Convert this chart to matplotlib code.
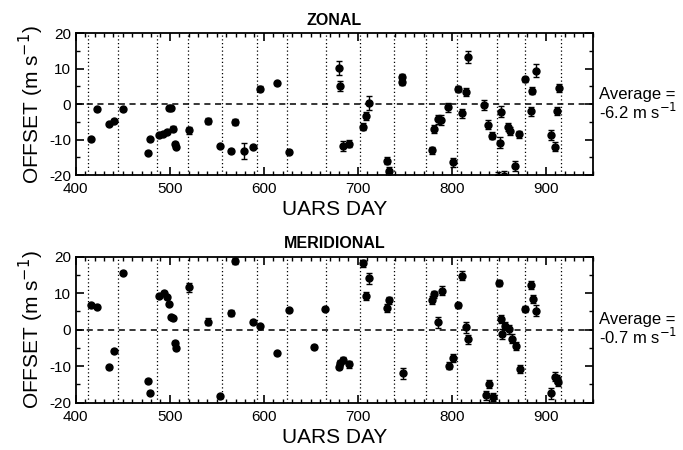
import numpy as np
import matplotlib
matplotlib.use("Agg")
import matplotlib.pyplot as plt
from matplotlib.ticker import MultipleLocator

plt.rcParams['font.family'] = ['Liberation Sans', 'DejaVu Sans']
plt.rcParams['axes.unicode_minus'] = False

# zonal offsets
day_z = [416, 423, 435, 441, 450, 477, 479, 488, 493, 497, 499, 501, 503, 505, 507,
         520, 541, 553, 565, 569, 579, 589, 596, 614, 627, 680, 681, 684, 691, 705,
         709, 712, 731, 733, 747, 747, 779, 781, 785, 789, 796, 801, 807, 811, 815,
         817, 834, 839, 843, 849, 851, 852, 856, 860, 862, 867, 871, 878, 884, 885,
         890, 906, 910, 912, 914]
off_z = [-9.9, -1.4, -5.6, -4.7, -1.4, -13.7, -9.9, -8.7, -8.3, -7.8, -1.2, -1.2, -6.9, -11.1, -12.0,
         -7.3, -4.7, -11.8, -13.2, -5.0, -13.2, -12.0, 4.4, 5.9, -13.4, 10.3, 5.1, -11.8, -11.1, -6.4,
         -3.3, 0.4, -16.0, -18.8, 7.6, 6.3, -13.0, -7.0, -4.3, -4.5, -0.9, -16.4, 4.2, -2.6, 3.4,
         13.3, -0.2, -5.8, -8.9, -20.5, -10.9, -2.1, -20.3, -6.5, -7.5, -17.4, -8.5, 7.0, -2.0, 3.8,
         9.4, -8.7, -12.0, -1.9, 4.5]
err_z = [0.4, 0.4, 0.4, 0.4, 0.4, 0.5, 0.4, 0.4, 0.4, 0.4, 0.4, 0.4, 0.8, 0.5, 0.5,
         1.0, 0.8, 0.4, 0.5, 0.8, 2.3, 0.4, 0.8, 0.4, 0.5, 2.0, 1.5, 1.5, 1.0, 1.0,
         1.2, 2.0, 1.0, 1.0, 1.0, 1.0, 1.0, 1.0, 1.2, 1.5, 1.2, 1.2, 0.8, 1.2, 1.2,
         1.8, 1.5, 1.2, 1.0, 1.5, 1.5, 1.5, 1.5, 1.2, 1.2, 1.5, 1.0, 0.8, 1.2, 1.0,
         1.8, 1.5, 1.2, 1.2, 1.2]

# meridional offsets
day_m = [416, 423, 435, 441, 450, 477, 479, 488, 494, 497, 499, 501, 503, 505, 507,
         520, 541, 553, 565, 569, 589, 596, 614, 627, 653, 665, 680, 681, 684, 691,
         705, 709, 712, 731, 733, 748, 779, 781, 785, 790, 797, 801, 807, 811, 815,
         817, 836, 840, 844, 850, 852, 853, 857, 861, 864, 868, 872, 878, 884, 886,
         890, 906, 910, 912, 913]
off_m = [6.6, 6.2, -10.3, -5.8, 15.6, -14.0, -17.3, 9.3, 10.1, 8.9, 7.0, 3.4, 3.1, -3.7, -5.0,
         11.6, 2.2, -18.2, 4.6, 18.8, 2.2, 1.0, -6.5, 5.3, -4.7, 5.7, -10.1, -9.2, -8.3, -9.5,
         18.1, 9.2, 14.1, 5.9, 8.0, -11.9, 8.1, 9.7, 2.0, 10.7, -9.9, -7.8, 6.6, 14.7, 0.7,
         -2.6, -18.0, -14.9, -18.4, 12.7, 2.9, -1.2, 1.0, 0.1, -2.5, -4.5, -10.8, 5.7, 12.2, 8.4,
         5.1, -17.4, -12.9, -13.5, -14.2]
err_m = [0.4, 0.4, 0.4, 0.5, 0.4, 0.5, 0.4, 0.4, 0.4, 0.4, 0.4, 0.4, 0.4, 0.5, 0.5,
         1.2, 1.0, 0.4, 0.8, 0.8, 0.4, 0.4, 0.4, 0.4, 0.5, 0.4, 0.8, 0.8, 0.8, 1.0,
         1.0, 1.0, 1.5, 1.0, 1.0, 1.5, 1.0, 1.0, 1.5, 1.2, 1.0, 1.0, 0.8, 1.2, 1.5,
         1.2, 1.2, 1.2, 1.2, 0.8, 1.2, 1.5, 1.2, 1.2, 1.2, 1.2, 1.0, 0.8, 1.2, 1.0,
         1.5, 1.5, 1.2, 1.2, 1.2]

# dotted vertical lines
events = [413, 445, 486, 519, 556, 593, 625, 666, 702, 738, 773, 805, 848, 878, 916]

panels = [("ZONAL", day_z, off_z, err_z, "-6.2"),
          ("MERIDIONAL", day_m, off_m, err_m, "-0.7")]

fig = plt.figure(figsize=(6.83, 4.5), dpi=100)
rects = [[0.111, 0.611, 0.757, 0.315], [0.111, 0.105, 0.757, 0.325]]

for rect, (title, d, o, e, avg) in zip(rects, panels):
    ax = fig.add_axes(rect)
    for x in events:
        ax.axvline(x, color='black', ls=(0, (1, 2)), lw=0.9, zorder=1)
    ax.axhline(0, color='black', ls=(0, (4, 3)), lw=1.1, zorder=1)
    ax.errorbar(d, o, yerr=e, fmt='o', color='black', ms=5, elinewidth=1.0,
                capsize=2.5, capthick=1.0, zorder=3)
    ax.set_xlim(400, 950)
    ax.set_ylim(-20, 20)
    ax.xaxis.set_major_locator(MultipleLocator(100))
    ax.xaxis.set_minor_locator(MultipleLocator(10))
    ax.yaxis.set_major_locator(MultipleLocator(10))
    ax.yaxis.set_minor_locator(MultipleLocator(5))
    ax.tick_params(which='both', direction='in', top=True, right=True, labelsize=11)
    ax.tick_params(axis='x', which='major', pad=5)
    ax.tick_params(which='major', length=6, width=1.2)
    ax.tick_params(which='minor', length=3, width=1.0)
    ax.set_xticks([400, 500, 600, 700, 800, 900])
    for s in ax.spines.values():
        s.set_linewidth(1.3)
    ax.set_title(title, fontsize=11.5, fontweight='bold', pad=6)
    ax.set_xlabel("UARS DAY", fontsize=15, labelpad=3)
    ax.set_ylabel("OFFSET (m s$^{-1}$)", fontsize=15, labelpad=2)
    ax.text(1.012, 0.5, "Average =\n" + avg + " m s$^{-1}$", transform=ax.transAxes,
            fontsize=12, ha='left', va='center', linespacing=1.0)

fig.savefig("out.png", dpi=100)
